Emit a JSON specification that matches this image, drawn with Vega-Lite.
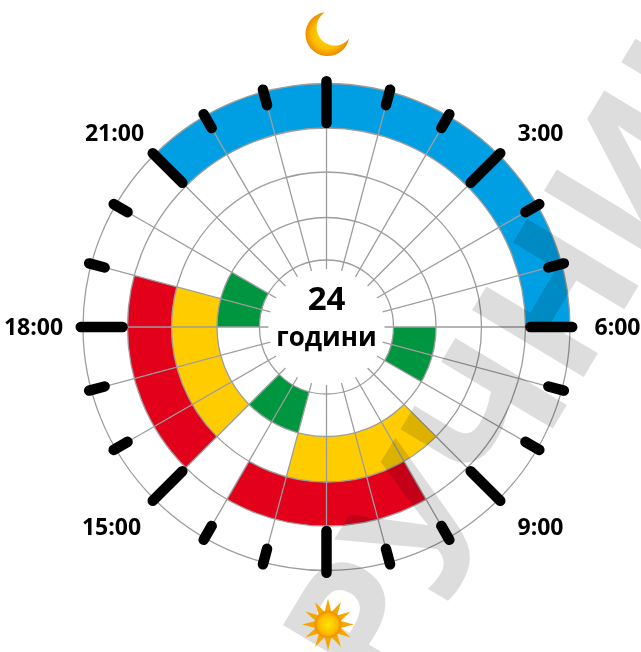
{
"$schema":"https://vega.github.io/schema/vega-lite/v6.json",
"width":641,"height":652,"padding":0,"autosize":{"type":"none"},
"background":"white",
"view":{"stroke":null},
"datasets":{
"cells":[
{"start":21,"end":22,"ring":3,"band":"blue"},{"start":22,"end":23,"ring":3,"band":"blue"},{"start":23,"end":24,"ring":3,"band":"blue"},{"start":0,"end":1,"ring":3,"band":"blue"},{"start":1,"end":2,"ring":3,"band":"blue"},{"start":2,"end":3,"ring":3,"band":"blue"},{"start":3,"end":4,"ring":3,"band":"blue"},{"start":4,"end":5,"ring":3,"band":"blue"},{"start":5,"end":6,"ring":3,"band":"blue"},
{"start":6,"end":7,"ring":0,"band":"green"},{"start":7,"end":8,"ring":0,"band":"green"},{"start":13,"end":14,"ring":0,"band":"green"},{"start":14,"end":15,"ring":0,"band":"green"},{"start":18,"end":19,"ring":0,"band":"green"},{"start":19,"end":20,"ring":0,"band":"green"},
{"start":9,"end":10,"ring":1,"band":"yellow"},{"start":10,"end":11,"ring":1,"band":"yellow"},{"start":11,"end":12,"ring":1,"band":"yellow"},{"start":12,"end":13,"ring":1,"band":"yellow"},{"start":15,"end":16,"ring":1,"band":"yellow"},{"start":16,"end":17,"ring":1,"band":"yellow"},{"start":17,"end":18,"ring":1,"band":"yellow"},{"start":18,"end":19,"ring":1,"band":"yellow"},
{"start":10,"end":11,"ring":2,"band":"red"},{"start":11,"end":12,"ring":2,"band":"red"},{"start":12,"end":13,"ring":2,"band":"red"},{"start":13,"end":14,"ring":2,"band":"red"},{"start":15,"end":16,"ring":2,"band":"red"},{"start":16,"end":17,"ring":2,"band":"red"},{"start":17,"end":18,"ring":2,"band":"red"},{"start":18,"end":19,"ring":2,"band":"red"}
],
"hours":[
{"hour":0,"major":true},{"hour":1,"major":false},{"hour":2,"major":false},{"hour":3,"major":true},{"hour":4,"major":false},{"hour":5,"major":false},{"hour":6,"major":true},{"hour":7,"major":false},{"hour":8,"major":false},{"hour":9,"major":true},{"hour":10,"major":false},{"hour":11,"major":false},{"hour":12,"major":true},{"hour":13,"major":false},{"hour":14,"major":false},{"hour":15,"major":true},{"hour":16,"major":false},{"hour":17,"major":false},{"hour":18,"major":true},{"hour":19,"major":false},{"hour":20,"major":false},{"hour":21,"major":true},{"hour":22,"major":false},{"hour":23,"major":false}
],
"labels":[
{"label":"3:00","px":214,"py":193},{"label":"6:00","px":291,"py":-1},{"label":"9:00","px":214,"py":-201},{"label":"15:00","px":-215,"py":-201},{"label":"18:00","px":-293,"py":-1},{"label":"21:00","px":-212,"py":193}
]
},
"layer":[
{"data":{"name":"cells"},
 "transform":[{"calculate":"datum.ring+1","as":"ringOuter"}],
 "mark":{"type":"arc"},
 "encoding":{
 "x":{"datum":0,"type":"quantitative","scale":{"domain":[-326.5,314.5],"range":[0,641],"nice":false,"zero":false},"axis":null},
 "y":{"datum":0,"type":"quantitative","scale":{"domain":[-325,327],"range":[652,0],"nice":false,"zero":false},"axis":null},
 "theta":{"field":"start","type":"quantitative","stack":null,"scale":{"domain":[0,24],"range":[0,6.283185307]}},
 "theta2":{"field":"end"},
 "radius":{"field":"ring","type":"quantitative","scale":{"type":"linear","domain":[0,1,2,3,4],"range":[67,109.5,155,199,243.5]}},
 "radius2":{"field":"ringOuter"},
 "color":{"field":"band","type":"nominal","legend":null,"scale":{"domain":["blue","green","yellow","red"],"range":["#009fe3","#009640","#ffcc00","#e2001a"]}}
 }},
{"data":{"values":[{"ring":0},{"ring":1},{"ring":2},{"ring":3},{"ring":4}]},
 "transform":[{"calculate":"0","as":"a"},{"calculate":"24","as":"b"}],
 "mark":{"type":"arc","filled":false,"fill":null,"stroke":"#9d9d9c","strokeWidth":1.3},
 "encoding":{
 "x":{"datum":0,"type":"quantitative","scale":{"domain":[-326.5,314.5],"range":[0,641],"nice":false,"zero":false},"axis":null},
 "y":{"datum":0,"type":"quantitative","scale":{"domain":[-325,327],"range":[652,0],"nice":false,"zero":false},"axis":null},
 "theta":{"field":"a","type":"quantitative","stack":null},
 "theta2":{"field":"b"},
 "radius":{"field":"ring","type":"quantitative"},
 "radius2":{"field":"ring"}
 }},
{"data":{"name":"hours"},
 "transform":[{"calculate":"-0.21","as":"r0"},{"calculate":"4","as":"r1"}],
 "mark":{"type":"arc","filled":false,"fill":null,"stroke":"#9d9d9c","strokeWidth":1.3},
 "encoding":{
 "x":{"datum":0,"type":"quantitative","scale":{"domain":[-326.5,314.5],"range":[0,641],"nice":false,"zero":false},"axis":null},
 "y":{"datum":0,"type":"quantitative","scale":{"domain":[-325,327],"range":[652,0],"nice":false,"zero":false},"axis":null},
 "theta":{"field":"hour","type":"quantitative","stack":null},
 "theta2":{"field":"hour"},
 "radius":{"field":"r0","type":"quantitative"},
 "radius2":{"field":"r1"}
 }},
{"data":{"name":"hours"},
 "transform":[{"calculate":"datum.major?3.11:3.69","as":"r0"},{"calculate":"4.05","as":"r1"}],
 "mark":{"type":"arc","filled":false,"fill":null,"stroke":"#000000","strokeWidth":10.5,"strokeJoin":"round","strokeCap":"round"},
 "encoding":{
 "x":{"datum":0,"type":"quantitative","scale":{"domain":[-326.5,314.5],"range":[0,641],"nice":false,"zero":false},"axis":null},
 "y":{"datum":0,"type":"quantitative","scale":{"domain":[-325,327],"range":[652,0],"nice":false,"zero":false},"axis":null},
 "theta":{"field":"hour","type":"quantitative","stack":null},
 "theta2":{"field":"hour"},
 "radius":{"field":"r0","type":"quantitative"},
 "radius2":{"field":"r1"}
 }},
{"data":{"values":[{"word":"ПРУЧНИК","px":178,"py":-75}]},
 "mark":{"type":"text","font":"Open Sans","fontWeight":"bold","fontSize":182,"angle":-59,"align":"center","baseline":"middle","fill":"#dcdddc","blend":"multiply"},
 "encoding":{
 "x":{"field":"px","type":"quantitative","scale":{"domain":[-326.5,314.5],"range":[0,641],"nice":false,"zero":false},"axis":null},
 "y":{"field":"py","type":"quantitative","scale":{"domain":[-325,327],"range":[652,0],"nice":false,"zero":false},"axis":null},
 "text":{"field":"word"}
 }},
{"data":{"values":[{"t":"24","px":0,"py":27,"size":33},{"t":"години","px":0,"py":-11,"size":26}]},
 "mark":{"type":"text","font":"Open Sans","fontWeight":"bold","align":"center","baseline":"middle","fill":"#000000"},
 "encoding":{
 "x":{"field":"px","type":"quantitative","scale":{"domain":[-326.5,314.5],"range":[0,641],"nice":false,"zero":false},"axis":null},
 "y":{"field":"py","type":"quantitative","scale":{"domain":[-325,327],"range":[652,0],"nice":false,"zero":false},"axis":null},
 "size":{"field":"size","type":"quantitative","scale":null,"legend":null},
 "text":{"field":"t"}
 }},
{"data":{"name":"labels"},
 "mark":{"type":"text","font":"Open Sans","fontWeight":"bold","fontSize":23,"align":"center","baseline":"middle","fill":"#000000"},
 "encoding":{
 "x":{"field":"px","type":"quantitative","scale":{"domain":[-326.5,314.5],"range":[0,641],"nice":false,"zero":false},"axis":null},
 "y":{"field":"py","type":"quantitative","scale":{"domain":[-325,327],"range":[652,0],"nice":false,"zero":false},"axis":null},
 "text":{"field":"label"}
 }},
{"data":{"values":[{"icon":"moon","px":1,"py":293}]},
 "mark":{"type":"point","filled":true,"opacity":1,"strokeWidth":0,"size":1936,"shape":"M -0.11 -0.99 A 1 1 0 1 0 0.98 0.2 A 0.82 0.82 0 1 1 -0.11 -0.99 Z",
 "fill":{"gradient":"radial","stops":[{"offset":0,"color":"#ffed00"},{"offset":0.7,"color":"#fbba00"},{"offset":1,"color":"#ef8a00"}]}},
 "encoding":{
 "x":{"field":"px","type":"quantitative","scale":{"domain":[-326.5,314.5],"range":[0,641],"nice":false,"zero":false},"axis":null},
 "y":{"field":"py","type":"quantitative","scale":{"domain":[-325,327],"range":[652,0],"nice":false,"zero":false},"axis":null}
 }},
{"data":{"values":[{"icon":"sun rays","px":1.5,"py":-297.5}]},
 "mark":{"type":"point","filled":true,"opacity":1,"strokeWidth":0,"size":2704,"fill":"#f7a600",
 "shape":"M1 0L.48 .13L.87 .5L.35 .35L.5 .87L.13 .48L0 1L-.13 .48L-.5 .87L-.35 .35L-.87 .5L-.48 .13L-1 0L-.48 -.13L-.87 -.5L-.35 -.35L-.5 -.87L-.13 -.48L0 -1L.13 -.48L.5 -.87L.35 -.35L.87 -.5L.48 -.13Z"},
 "encoding":{
 "x":{"field":"px","type":"quantitative","scale":{"domain":[-326.5,314.5],"range":[0,641],"nice":false,"zero":false},"axis":null},
 "y":{"field":"py","type":"quantitative","scale":{"domain":[-325,327],"range":[652,0],"nice":false,"zero":false},"axis":null}
 }},
{"data":{"values":[{"icon":"sun core","px":1.5,"py":-297.5}]},
 "mark":{"type":"point","shape":"circle","filled":true,"opacity":1,"strokeWidth":0,"size":729,
 "fill":{"gradient":"radial","stops":[{"offset":0,"color":"#ffe600"},{"offset":0.7,"color":"#fbba00"},{"offset":1,"color":"#ef8a00"}]}},
 "encoding":{
 "x":{"field":"px","type":"quantitative","scale":{"domain":[-326.5,314.5],"range":[0,641],"nice":false,"zero":false},"axis":null},
 "y":{"field":"py","type":"quantitative","scale":{"domain":[-325,327],"range":[652,0],"nice":false,"zero":false},"axis":null}
 }}
]
}
